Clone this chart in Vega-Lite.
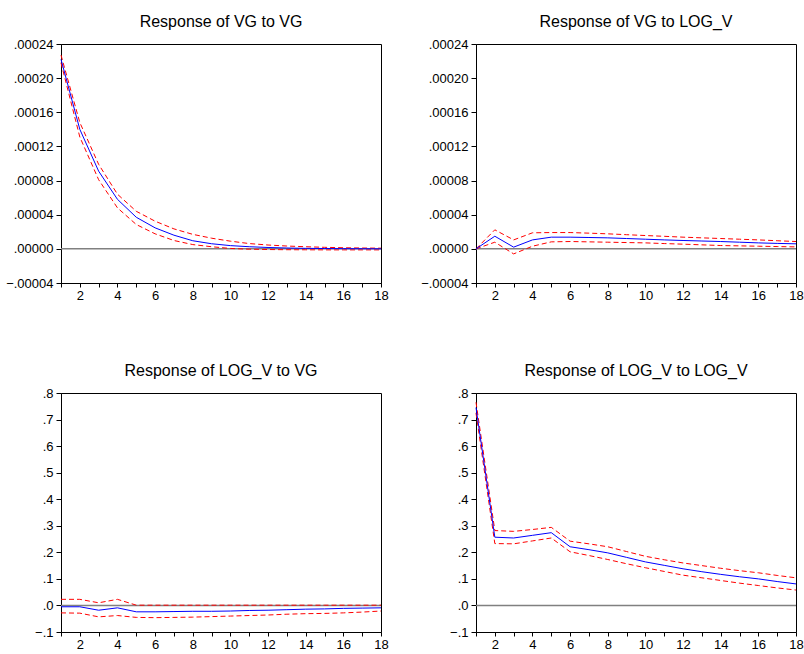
{
  "$schema": "https://vega.github.io/schema/vega-lite/v6.json",
  "background": "white",
  "padding": {"left": 5, "top": 13, "right": 0, "bottom": 0},
  "config": {
    "view": {"stroke": "black", "strokeWidth": 1},
    "axis": {"grid": false, "domainColor": "black", "tickColor": "black", "labelColor": "black", "labelFont": "Liberation Sans", "labelFontSize": 13, "tickSize": 5, "labelPadding": 3, "title": null, "labelOverlap": false, "labelFlush": false, "tickCount": 30},
    "title": {"font": "Liberation Sans", "fontSize": 16, "fontWeight": "normal", "color": "black", "offset": 8, "anchor": "middle", "frame": "group"}
  },
  "datasets": {
    "irf": [
      {"p": "VG_VG", "x": 1, "r": 0.000222, "hi": 0.000227, "lo": 0.000218},
      {"p": "VG_VG", "x": 2, "r": 0.000140, "hi": 0.000148, "lo": 0.000131},
      {"p": "VG_VG", "x": 3, "r": 0.000091, "hi": 0.000099, "lo": 0.000081},
      {"p": "VG_VG", "x": 4, "r": 0.000058, "hi": 0.000064, "lo": 0.000048},
      {"p": "VG_VG", "x": 5, "r": 0.000037, "hi": 0.000044, "lo": 0.0000285},
      {"p": "VG_VG", "x": 6, "r": 0.0000246, "hi": 0.0000324, "lo": 0.0000176},
      {"p": "VG_VG", "x": 7, "r": 0.000016, "hi": 0.0000234, "lo": 0.0000098},
      {"p": "VG_VG", "x": 8, "r": 0.0000095, "hi": 0.000017, "lo": 0.000005},
      {"p": "VG_VG", "x": 9, "r": 0.000006, "hi": 0.0000125, "lo": 0.0000025},
      {"p": "VG_VG", "x": 10, "r": 0.0000038, "hi": 0.000009, "lo": 0.0000005},
      {"p": "VG_VG", "x": 11, "r": 0.0000025, "hi": 0.0000062, "lo": -0.0000004},
      {"p": "VG_VG", "x": 12, "r": 0.0000016, "hi": 0.0000045, "lo": -0.0000008},
      {"p": "VG_VG", "x": 13, "r": 0.000001, "hi": 0.0000033, "lo": -0.000001},
      {"p": "VG_VG", "x": 14, "r": 0.0000006, "hi": 0.0000025, "lo": -0.0000011},
      {"p": "VG_VG", "x": 15, "r": 0.0000004, "hi": 0.0000018, "lo": -0.0000012},
      {"p": "VG_VG", "x": 16, "r": 0.0000002, "hi": 0.0000013, "lo": -0.0000012},
      {"p": "VG_VG", "x": 17, "r": 0.0000001, "hi": 0.000001, "lo": -0.0000012},
      {"p": "VG_VG", "x": 18, "r": 0.0, "hi": 0.0000008, "lo": -0.0000012},
      {"p": "VG_LOGV", "x": 1, "r": 0.0, "hi": 0.0, "lo": 0.0},
      {"p": "VG_LOGV", "x": 2, "r": 0.0000148, "hi": 0.0000223, "lo": 0.0000078},
      {"p": "VG_LOGV", "x": 3, "r": 0.000002, "hi": 0.0000105, "lo": -0.0000059},
      {"p": "VG_LOGV", "x": 4, "r": 0.0000105, "hi": 0.0000188, "lo": 0.0000031},
      {"p": "VG_LOGV", "x": 5, "r": 0.0000137, "hi": 0.0000191, "lo": 0.0000082},
      {"p": "VG_LOGV", "x": 6, "r": 0.0000137, "hi": 0.0000191, "lo": 0.0000086},
      {"p": "VG_LOGV", "x": 7, "r": 0.0000133, "hi": 0.0000184, "lo": 0.0000082},
      {"p": "VG_LOGV", "x": 8, "r": 0.0000129, "hi": 0.0000176, "lo": 0.0000078},
      {"p": "VG_LOGV", "x": 9, "r": 0.0000121, "hi": 0.0000166, "lo": 0.0000074},
      {"p": "VG_LOGV", "x": 10, "r": 0.0000113, "hi": 0.0000156, "lo": 0.000007},
      {"p": "VG_LOGV", "x": 11, "r": 0.0000105, "hi": 0.0000147, "lo": 0.0000062},
      {"p": "VG_LOGV", "x": 12, "r": 0.0000098, "hi": 0.0000137, "lo": 0.0000055},
      {"p": "VG_LOGV", "x": 13, "r": 0.0000092, "hi": 0.0000129, "lo": 0.0000047},
      {"p": "VG_LOGV", "x": 14, "r": 0.0000086, "hi": 0.0000121, "lo": 0.0000039},
      {"p": "VG_LOGV", "x": 15, "r": 0.0000078, "hi": 0.0000113, "lo": 0.0000035},
      {"p": "VG_LOGV", "x": 16, "r": 0.000007, "hi": 0.0000105, "lo": 0.0000031},
      {"p": "VG_LOGV", "x": 17, "r": 0.0000064, "hi": 0.0000095, "lo": 0.0000027},
      {"p": "VG_LOGV", "x": 18, "r": 0.0000059, "hi": 0.0000086, "lo": 0.0000023},
      {"p": "LOGV_VG", "x": 1, "r": -0.005, "hi": 0.023, "lo": -0.028},
      {"p": "LOGV_VG", "x": 2, "r": -0.005, "hi": 0.023, "lo": -0.029},
      {"p": "LOGV_VG", "x": 3, "r": -0.018, "hi": 0.010, "lo": -0.043},
      {"p": "LOGV_VG", "x": 4, "r": -0.009, "hi": 0.023, "lo": -0.038},
      {"p": "LOGV_VG", "x": 5, "r": -0.024, "hi": 0.001, "lo": -0.045},
      {"p": "LOGV_VG", "x": 6, "r": -0.024, "hi": 0.001, "lo": -0.046},
      {"p": "LOGV_VG", "x": 7, "r": -0.023, "hi": 0.001, "lo": -0.045},
      {"p": "LOGV_VG", "x": 8, "r": -0.022, "hi": 0.001, "lo": -0.044},
      {"p": "LOGV_VG", "x": 9, "r": -0.022, "hi": 0.001, "lo": -0.042},
      {"p": "LOGV_VG", "x": 10, "r": -0.021, "hi": 0.001, "lo": -0.040},
      {"p": "LOGV_VG", "x": 11, "r": -0.019, "hi": 0.001, "lo": -0.038},
      {"p": "LOGV_VG", "x": 12, "r": -0.018, "hi": 0.001, "lo": -0.036},
      {"p": "LOGV_VG", "x": 13, "r": -0.016, "hi": 0.001, "lo": -0.033},
      {"p": "LOGV_VG", "x": 14, "r": -0.014, "hi": 0.001, "lo": -0.031},
      {"p": "LOGV_VG", "x": 15, "r": -0.013, "hi": 0.001, "lo": -0.030},
      {"p": "LOGV_VG", "x": 16, "r": -0.011, "hi": 0.001, "lo": -0.028},
      {"p": "LOGV_VG", "x": 17, "r": -0.010, "hi": 0.001, "lo": -0.025},
      {"p": "LOGV_VG", "x": 18, "r": -0.009, "hi": 0.001, "lo": -0.021},
      {"p": "LOGV_LOGV", "x": 1, "r": 0.745, "hi": 0.765, "lo": 0.725},
      {"p": "LOGV_LOGV", "x": 2, "r": 0.257, "hi": 0.282, "lo": 0.233},
      {"p": "LOGV_LOGV", "x": 3, "r": 0.254, "hi": 0.279, "lo": 0.232},
      {"p": "LOGV_LOGV", "x": 4, "r": 0.264, "hi": 0.286, "lo": 0.243},
      {"p": "LOGV_LOGV", "x": 5, "r": 0.274, "hi": 0.294, "lo": 0.254},
      {"p": "LOGV_LOGV", "x": 6, "r": 0.221, "hi": 0.242, "lo": 0.202},
      {"p": "LOGV_LOGV", "x": 7, "r": 0.210, "hi": 0.232, "lo": 0.188},
      {"p": "LOGV_LOGV", "x": 8, "r": 0.198, "hi": 0.221, "lo": 0.173},
      {"p": "LOGV_LOGV", "x": 9, "r": 0.181, "hi": 0.203, "lo": 0.157},
      {"p": "LOGV_LOGV", "x": 10, "r": 0.164, "hi": 0.185, "lo": 0.142},
      {"p": "LOGV_LOGV", "x": 11, "r": 0.151, "hi": 0.172, "lo": 0.128},
      {"p": "LOGV_LOGV", "x": 12, "r": 0.138, "hi": 0.160, "lo": 0.114},
      {"p": "LOGV_LOGV", "x": 13, "r": 0.127, "hi": 0.150, "lo": 0.104},
      {"p": "LOGV_LOGV", "x": 14, "r": 0.117, "hi": 0.140, "lo": 0.094},
      {"p": "LOGV_LOGV", "x": 15, "r": 0.108, "hi": 0.131, "lo": 0.084},
      {"p": "LOGV_LOGV", "x": 16, "r": 0.100, "hi": 0.123, "lo": 0.075},
      {"p": "LOGV_LOGV", "x": 17, "r": 0.090, "hi": 0.113, "lo": 0.066},
      {"p": "LOGV_LOGV", "x": 18, "r": 0.081, "hi": 0.104, "lo": 0.058}
    ]
  },
  "data": {"name": "irf"},
  "columns": 2,
  "spacing": {"row": 110, "column": 95},
  "bounds": "flush",
  "concat": [
    {
      "title": "Response of VG to VG",
      "width": 320, "height": 239,
      "transform": [{"filter": "datum.p == 'VG_VG'"}],
      "layer": [
        {"transform": [{"aggregate": [{"op": "count", "as": "n"}]}], "mark": {"type": "rule", "color": "#808080", "strokeWidth": 1.5}, "encoding": {"y": {"datum": 0, "type": "quantitative", "scale": {"domain": [-0.00004, 0.00024], "nice": false, "zero": false}, "axis": {"values": [-0.00004, 0, 0.00004, 0.00008, 0.00012, 0.00016, 0.0002, 0.00024], "tickCount": 30, "labelOverlap": false, "labelExpr": "replace(format(datum.value, '.5f'), '0.', '.')"}}}},
        {"mark": {"type": "line", "color": "#ff0000", "strokeWidth": 1, "strokeDash": [5, 3]}, "encoding": {"x": {"field": "x", "type": "quantitative", "scale": {"domain": [1, 18], "nice": false, "zero": false}, "axis": {"values": [1,2,3,4,5,6,7,8,9,10,11,12,13,14,15,16,17,18], "tickCount": 30, "labelOverlap": false, "labelExpr": "datum.value % 2 == 0 ? format(datum.value, 'd') : ''", "tickSize": 4, "labelPadding": 2}}, "y": {"field": "hi", "type": "quantitative"}}},
        {"mark": {"type": "line", "color": "#ff0000", "strokeWidth": 1, "strokeDash": [5, 3]}, "encoding": {"x": {"field": "x", "type": "quantitative"}, "y": {"field": "lo", "type": "quantitative"}}},
        {"mark": {"type": "line", "color": "#0000ff", "strokeWidth": 1}, "encoding": {"x": {"field": "x", "type": "quantitative"}, "y": {"field": "r", "type": "quantitative"}}}
      ]
    },
    {
      "title": "Response of VG to LOG_V",
      "width": 320, "height": 239,
      "transform": [{"filter": "datum.p == 'VG_LOGV'"}],
      "layer": [
        {"transform": [{"aggregate": [{"op": "count", "as": "n"}]}], "mark": {"type": "rule", "color": "#808080", "strokeWidth": 1.5}, "encoding": {"y": {"datum": 0, "type": "quantitative", "scale": {"domain": [-0.00004, 0.00024], "nice": false, "zero": false}, "axis": {"values": [-0.00004, 0, 0.00004, 0.00008, 0.00012, 0.00016, 0.0002, 0.00024], "tickCount": 30, "labelOverlap": false, "labelExpr": "replace(format(datum.value, '.5f'), '0.', '.')"}}}},
        {"mark": {"type": "line", "color": "#ff0000", "strokeWidth": 1, "strokeDash": [5, 3]}, "encoding": {"x": {"field": "x", "type": "quantitative", "scale": {"domain": [1, 18], "nice": false, "zero": false}, "axis": {"values": [1,2,3,4,5,6,7,8,9,10,11,12,13,14,15,16,17,18], "tickCount": 30, "labelOverlap": false, "labelExpr": "datum.value % 2 == 0 ? format(datum.value, 'd') : ''", "tickSize": 4, "labelPadding": 2}}, "y": {"field": "hi", "type": "quantitative"}}},
        {"mark": {"type": "line", "color": "#ff0000", "strokeWidth": 1, "strokeDash": [5, 3]}, "encoding": {"x": {"field": "x", "type": "quantitative"}, "y": {"field": "lo", "type": "quantitative"}}},
        {"mark": {"type": "line", "color": "#0000ff", "strokeWidth": 1}, "encoding": {"x": {"field": "x", "type": "quantitative"}, "y": {"field": "r", "type": "quantitative"}}}
      ]
    },
    {
      "title": "Response of LOG_V to VG",
      "width": 320, "height": 239,
      "transform": [{"filter": "datum.p == 'LOGV_VG'"}],
      "layer": [
        {"transform": [{"aggregate": [{"op": "count", "as": "n"}]}], "mark": {"type": "rule", "color": "#808080", "strokeWidth": 1.5}, "encoding": {"y": {"datum": 0, "type": "quantitative", "scale": {"domain": [-0.1, 0.8], "nice": false, "zero": false}, "axis": {"values": [-0.1, 0, 0.1, 0.2, 0.3, 0.4, 0.5, 0.6, 0.7, 0.8], "tickCount": 30, "labelOverlap": false, "labelExpr": "replace(format(datum.value, '.1f'), '0.', '.')"}}}},
        {"mark": {"type": "line", "color": "#ff0000", "strokeWidth": 1, "strokeDash": [5, 3]}, "encoding": {"x": {"field": "x", "type": "quantitative", "scale": {"domain": [1, 18], "nice": false, "zero": false}, "axis": {"values": [1,2,3,4,5,6,7,8,9,10,11,12,13,14,15,16,17,18], "tickCount": 30, "labelOverlap": false, "labelExpr": "datum.value % 2 == 0 ? format(datum.value, 'd') : ''", "tickSize": 4, "labelPadding": 2}}, "y": {"field": "hi", "type": "quantitative"}}},
        {"mark": {"type": "line", "color": "#ff0000", "strokeWidth": 1, "strokeDash": [5, 3]}, "encoding": {"x": {"field": "x", "type": "quantitative"}, "y": {"field": "lo", "type": "quantitative"}}},
        {"mark": {"type": "line", "color": "#0000ff", "strokeWidth": 1}, "encoding": {"x": {"field": "x", "type": "quantitative"}, "y": {"field": "r", "type": "quantitative"}}}
      ]
    },
    {
      "title": "Response of LOG_V to LOG_V",
      "width": 320, "height": 239,
      "transform": [{"filter": "datum.p == 'LOGV_LOGV'"}],
      "layer": [
        {"transform": [{"aggregate": [{"op": "count", "as": "n"}]}], "mark": {"type": "rule", "color": "#808080", "strokeWidth": 1.5}, "encoding": {"y": {"datum": 0, "type": "quantitative", "scale": {"domain": [-0.1, 0.8], "nice": false, "zero": false}, "axis": {"values": [-0.1, 0, 0.1, 0.2, 0.3, 0.4, 0.5, 0.6, 0.7, 0.8], "tickCount": 30, "labelOverlap": false, "labelExpr": "replace(format(datum.value, '.1f'), '0.', '.')"}}}},
        {"mark": {"type": "line", "color": "#ff0000", "strokeWidth": 1, "strokeDash": [5, 3]}, "encoding": {"x": {"field": "x", "type": "quantitative", "scale": {"domain": [1, 18], "nice": false, "zero": false}, "axis": {"values": [1,2,3,4,5,6,7,8,9,10,11,12,13,14,15,16,17,18], "tickCount": 30, "labelOverlap": false, "labelExpr": "datum.value % 2 == 0 ? format(datum.value, 'd') : ''", "tickSize": 4, "labelPadding": 2}}, "y": {"field": "hi", "type": "quantitative"}}},
        {"mark": {"type": "line", "color": "#ff0000", "strokeWidth": 1, "strokeDash": [5, 3]}, "encoding": {"x": {"field": "x", "type": "quantitative"}, "y": {"field": "lo", "type": "quantitative"}}},
        {"mark": {"type": "line", "color": "#0000ff", "strokeWidth": 1}, "encoding": {"x": {"field": "x", "type": "quantitative"}, "y": {"field": "r", "type": "quantitative"}}}
      ]
    }
  ]
}
